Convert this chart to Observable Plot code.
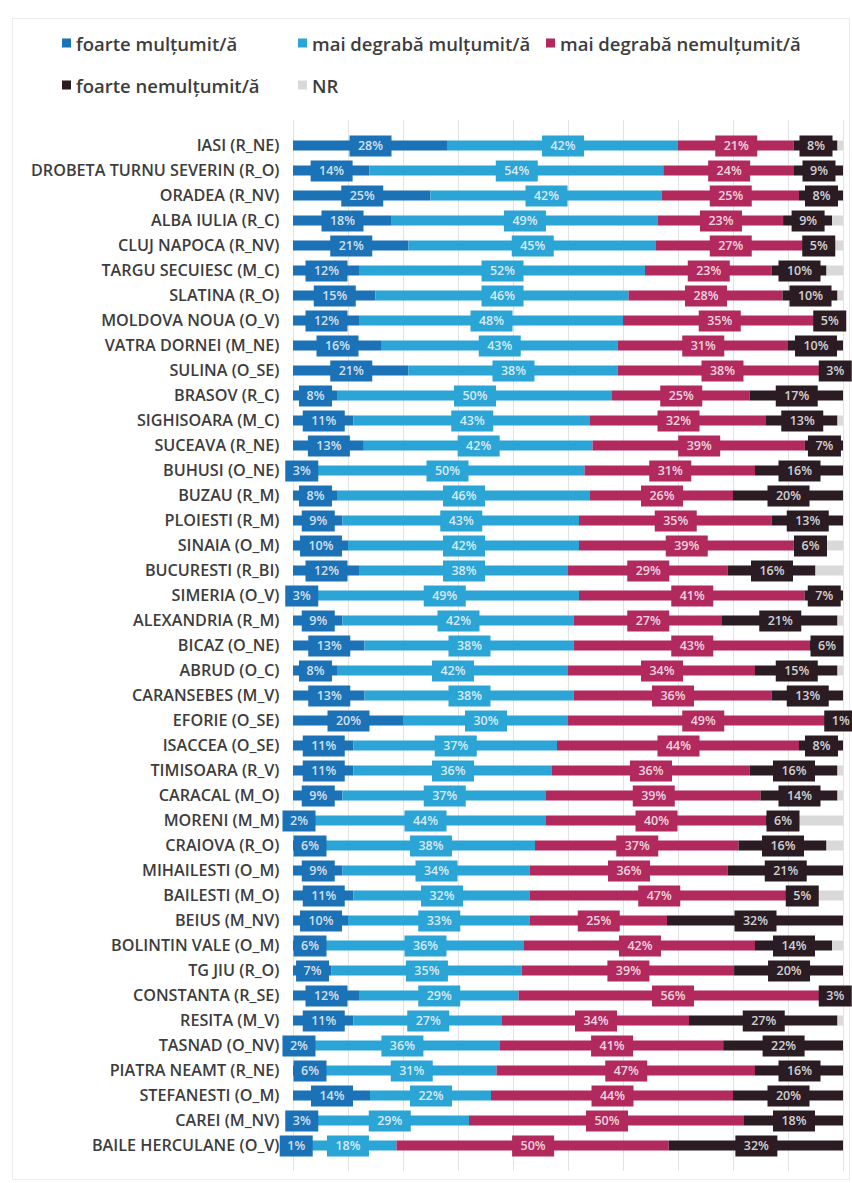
<!DOCTYPE html>
<html><head><meta charset="utf-8">
<script src="https://cdn.jsdelivr.net/npm/d3@7"></script>
<script src="https://cdn.jsdelivr.net/npm/@observablehq/plot@0.6"></script>
<style>
body{margin:0;background:#fff;font-family:"Open Sans",sans-serif;}
#wrap{position:relative;width:852px;height:1183px;overflow:hidden;background:#fff;}
#frame{position:absolute;left:12px;top:18px;width:836px;height:1160px;border:1px solid #ececec;}
#legend{position:absolute;left:0;top:0;width:852px;height:112px;}
.li{position:absolute;display:flex;align-items:center;font-size:18.5px;font-weight:600;color:#3d3d3d;white-space:nowrap;transform:translateY(-50%);}
.sw{width:9px;height:9px;margin-right:5px;flex:none;}
#chart{position:absolute;left:0;top:112px;line-height:0;}
</style></head><body>
<div id="wrap"><div id="frame"></div><div id="legend"></div><div id="chart"></div></div>
<script>
const cities = ["IASI (R_NE)","DROBETA TURNU SEVERIN (R_O)","ORADEA (R_NV)","ALBA IULIA (R_C)","CLUJ NAPOCA (R_NV)","TARGU SECUIESC (M_C)","SLATINA (R_O)","MOLDOVA NOUA (O_V)","VATRA DORNEI (M_NE)","SULINA (O_SE)","BRASOV (R_C)","SIGHISOARA (M_C)","SUCEAVA (R_NE)","BUHUSI (O_NE)","BUZAU (R_M)","PLOIESTI (R_M)","SINAIA (O_M)","BUCURESTI (R_BI)","SIMERIA (O_V)","ALEXANDRIA (R_M)","BICAZ (O_NE)","ABRUD (O_C)","CARANSEBES (M_V)","EFORIE (O_SE)","ISACCEA (O_SE)","TIMISOARA (R_V)","CARACAL (M_O)","MORENI (M_M)","CRAIOVA (R_O)","MIHAILESTI (O_M)","BAILESTI (M_O)","BEIUS (M_NV)","BOLINTIN VALE (O_M)","TG JIU (R_O)","CONSTANTA (R_SE)","RESITA (M_V)","TASNAD (O_NV)","PIATRA NEAMT (R_NE)","STEFANESTI (O_M)","CAREI (M_NV)","BAILE HERCULANE (O_V)"];
const foarteMultumit       = [28,14,25,18,21,12,15,12,16,21, 8,11,13,3,8,9,10,12,3,9, 13,8,13,20,11,11,9,2,6,9, 11,10,6,7,12,11,2,6,14,3,1];
const maiDegrabaMultumit   = [42,54,42,49,45,52,46,48,43,38, 50,43,42,50,46,43,42,38,49,42, 38,42,38,30,37,36,37,44,38,34, 32,33,36,35,29,27,36,31,22,29,18];
const maiDegrabaNemultumit = [21,24,25,23,27,23,28,35,31,38, 25,32,39,31,26,35,39,29,41,27, 43,34,36,49,44,36,39,40,37,36, 47,25,42,39,56,34,41,47,44,50,50];
const foarteNemultumit     = [8,9,8,9,5,10,10,5,10,3, 17,13,7,16,20,13,6,16,7,21, 6,15,13,1,8,16,14,6,16,21, 5,32,14,20,3,27,22,16,20,18,32];
const nonRaspuns           = [1,0,0,2,2,3,1,0,0,0, 0,1,0,0,0,0,3,5,0,1, 0,1,0,0,0,1,1,8,3,0, 5,0,2,0,0,1,0,0,0,0,0];
const categories = ["foarte mulțumit/ă","mai degrabă mulțumit/ă","mai degrabă nemulțumit/ă","foarte nemulțumit/ă","NR"];
const colors = ["#1b72b6","#2ba4d6","#b2295e","#2b1c23","#d9d9d9"];
const gridTicks = [0,0.1,0.2,0.3,0.4,0.5,0.6,0.7,0.8,0.9,1];

// legend
const legendPos = [[62,43],[298,43],[546,43],[62,85],[298,85]];
const leg = document.getElementById("legend");
categories.forEach((c,i)=>{
  const d=document.createElement("div");d.className="li";
  d.style.left=legendPos[i][0]+"px";d.style.top=legendPos[i][1]+"px";
  d.innerHTML=`<span class="sw" style="background:${colors[i]}"></span><span>${c}</span>`;
  leg.appendChild(d);
});

const series=[foarteMultumit,maiDegrabaMultumit,maiDegrabaNemultumit,foarteNemultumit,nonRaspuns];
const rows=[];
cities.forEach((city,i)=>series.forEach((s,j)=>rows.push({city,cat:categories[j],value:s[i]})));

const st = o => Plot.stackX({x:"value",y:"city",z:"cat",order:categories,offset:"normalize",...o});
const box=(w,h)=>({draw(ctx){ctx.moveTo(-w/2,-h/2);ctx.lineTo(w/2,-h/2);ctx.lineTo(w/2,h/2);ctx.lineTo(-w/2,h/2);ctx.closePath();}});
const show = d => d.cat!=="NR" && d.value>0;

const chart = Plot.plot({
  width:852, height:1071,
  marginLeft:293, marginRight:9, marginTop:8, marginBottom:12,
  style:{fontFamily:"Open Sans, sans-serif",fontSize:"16.2px",fontWeight:600,color:"#3d3d3d",background:"transparent"},
  x:{domain:[0,1],axis:null},
  y:{domain:cities,padding:0,tickSize:0,tickPadding:14,label:null},
  color:{domain:categories,range:colors},
  marks:[
    Plot.ruleX(gridTicks,{stroke:"#e3e3e3",strokeWidth:1}),
    Plot.barX(rows, st({fill:"cat",insetTop:7.5,insetBottom:7.5})),
    Plot.dot(rows, st({fill:"cat",symbol:box(42,21),stroke:null,fillOpacity:d=>show(d)&&d.value>=10?1:0})),
    Plot.dot(rows, st({fill:"cat",symbol:box(33,21),stroke:null,fillOpacity:d=>show(d)&&d.value<10?1:0})),
    Plot.text(rows, st({text:d=>show(d)?d.value+"%":"",fill:"white",fillOpacity:0.8,fontSize:12.5,fontWeight:600}))
  ]
});
document.getElementById("chart").appendChild(chart);
</script>
</body></html>
